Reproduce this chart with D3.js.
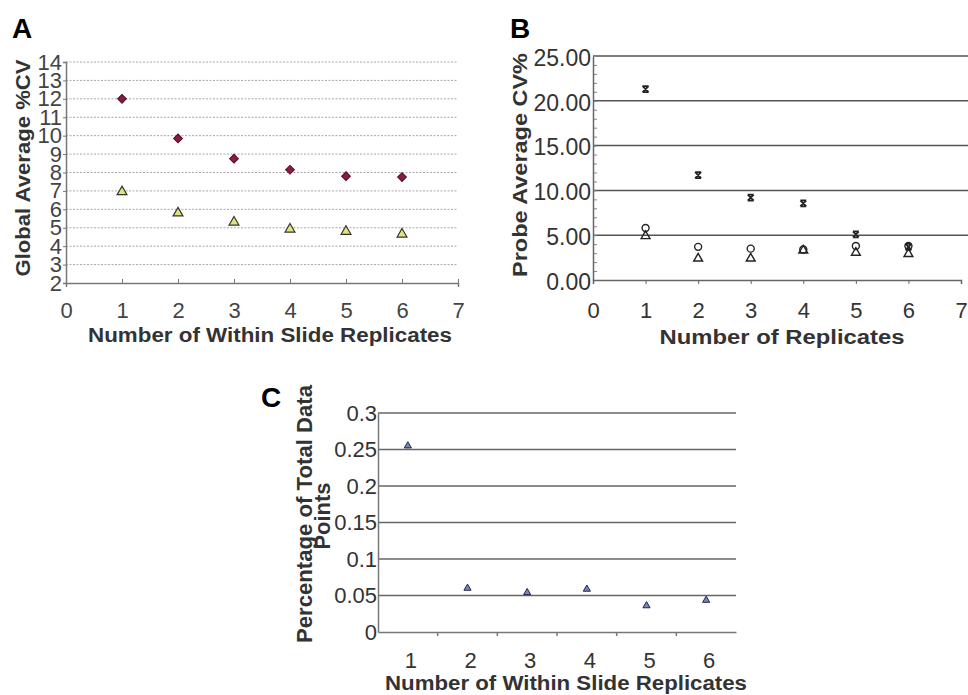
<!DOCTYPE html>
<html>
<head>
<meta charset="utf-8">
<script src="https://cdn.jsdelivr.net/npm/d3@7"></script>
<style>
body{margin:0;background:#fff}
text{font-family:"Liberation Sans",Arial,sans-serif}
</style>
</head>
<body>
<script>
// panel A data
var replicatesA = [1, 2, 3, 4, 5, 6]
var globalCvRed = [12.0, 9.85, 8.75, 8.15, 7.8, 7.75]
var globalCvTri = [6.95, 5.8, 5.3, 4.92, 4.8, 4.65]
var ticksA = [2, 3, 4, 5, 6, 7, 8, 9, 10, 11, 12, 13, 14]

// panel B data
var replicatesB = [1, 2, 3, 4, 5, 6]
var probeCvStar = [21.3, 11.7, 9.2, 8.55, 5.1, 3.7]
var probeCvCircle = [5.8, 3.7, 3.5, 3.4, 3.8, 3.8]
var probeCvTri = [4.9, 2.4, 2.4, 3.3, 3.05, 2.9]
var ticksB = [0, 5, 10, 15, 20, 25]

// panel C data
var replicatesC = ["1", "2", "3", "4", "5", "6"]
var percentTotal = [0.255, 0.06, 0.054, 0.0587, 0.036, 0.0435]
var ticksC = [0, 0.05, 0.1, 0.15, 0.2, 0.25, 0.3]

var svg = d3.select("body").append("svg")
  .attr("width", 968)
  .attr("height", 695)

function starPath(s)
{
  var h = s / 2
  return "M" + (-h) + "," + (-h) + "L" + h + "," + h +
    "M" + h + "," + (-h) + "L" + (-h) + "," + h +
    "M" + (-h) + "," + (-h) + "L" + h + "," + (-h) +
    "M" + (-h) + "," + h + "L" + h + "," + h
}

function tytul(txt, x, y, size, len, rot)
{
  var t = svg.append("text").text(txt)
    .attr("text-anchor", "middle").attr("font-size", size).attr("font-weight", "bold").attr("fill", "#333")
    .attr("textLength", len).attr("lengthAdjust", "spacingAndGlyphs")
  if (rot) t.attr("transform", "translate(" + x + "," + y + ") rotate(-90)")
  else t.attr("x", x).attr("y", y)
  return t
}

// ---------- A ----------
var xA = d3.scaleLinear().domain([0, 7]).range([66, 458])
var yA = d3.scaleLinear().domain([2, 14]).range([283, 62])
var gA = svg.append("g")

gA.selectAll("line.grid").data(ticksA.slice(1)).enter().append("line")
  .attr("class", "grid")
  .attr("x1", xA(0)).attr("x2", xA(7))
  .attr("y1", function(d){return yA(d)}).attr("y2", function(d){return yA(d)})
  .attr("stroke", "#a8a8a8").attr("stroke-width", 1)
  .attr("stroke-dasharray", "2,1.5")

gA.append("g").attr("transform", "translate(" + xA(0) + ",0)")
  .call(d3.axisLeft(yA).tickValues(ticksA).tickSize(3).tickFormat(d3.format("d")))
  .call(function(g){
    g.select(".domain").attr("stroke", "#777").attr("stroke-width", 1.5)
    g.selectAll(".tick line").attr("stroke", "#777")
    g.selectAll("text").attr("font-size", 22).attr("fill", "#444").attr("x", -4)
  })

gA.append("g").attr("transform", "translate(0," + yA(2) + ")")
  .call(d3.axisBottom(xA).ticks(7).tickSize(4).tickSizeOuter(4))
  .call(function(g){
    g.select(".domain").attr("stroke", "#777").attr("stroke-width", 1.5)
    g.selectAll(".tick line").attr("stroke", "#777").attr("y2", -4)
    g.selectAll("text").attr("font-size", 22).attr("fill", "#444").attr("y", 19)
  })

gA.selectAll("path.red").data(replicatesA).enter().append("path")
  .attr("class", "red")
  .attr("d", d3.symbol().type(d3.symbolSquare).size(38))
  .attr("transform", function(d, i){return "translate(" + xA(d) + "," + yA(globalCvRed[i]) + ") rotate(45)"})
  .attr("fill", "#8e1b3e").attr("stroke", "#4a0d1f").attr("stroke-width", 1)

gA.selectAll("path.tri").data(replicatesA).enter().append("path")
  .attr("class", "tri")
  .attr("d", d3.symbol().type(d3.symbolTriangle).size(42))
  .attr("transform", function(d, i){return "translate(" + xA(d) + "," + yA(globalCvTri[i]) + ")"})
  .attr("fill", "#e3e37a").attr("stroke", "#333").attr("stroke-width", 1.2)

svg.append("text").text("A").attr("x", 12).attr("y", 38)
  .attr("font-size", 28).attr("font-weight", "bold")
tytul("Global Average %CV", 30, 168, 21, 217, true)
tytul("Number of Within Slide Replicates", 270, 342, 20, 364, false)

// ---------- B ----------
var xB = d3.scaleLinear().domain([0, 7]).range([593, 961])
var yB = d3.scaleLinear().domain([0, 25]).range([280, 56])
var gB = svg.append("g")

gB.selectAll("line.grid").data(ticksB.slice(1)).enter().append("line")
  .attr("class", "grid")
  .attr("x1", xB(0)).attr("x2", 968)
  .attr("y1", function(d){return yB(d)}).attr("y2", function(d){return yB(d)})
  .attr("stroke", "#555").attr("stroke-width", 1.5)

gB.append("g").attr("transform", "translate(" + xB(0) + ",0)")
  .call(d3.axisRight(yB).ticks(25).tickSize(4).tickFormat(""))
  .call(function(g){
    g.select(".domain").remove()
    g.selectAll(".tick line").attr("stroke", "#888")
  })

gB.append("g").attr("transform", "translate(" + xB(0) + ",0)")
  .call(d3.axisLeft(yB).tickValues(ticksB).tickSize(0).tickFormat(d3.format(".2f")))
  .call(function(g){
    g.select(".domain").attr("stroke", "#666").attr("stroke-width", 1.5)
    g.selectAll("text").attr("font-size", 23).attr("fill", "#333").attr("x", -2).attr("dy", "0.4em")
  })

gB.append("g").attr("transform", "translate(0," + yB(0) + ")")
  .call(d3.axisBottom(xB).ticks(7).tickSize(4))
  .call(function(g){
    g.select(".domain").attr("stroke", "#666").attr("stroke-width", 1.5)
    g.selectAll(".tick line").attr("stroke", "#666")
    g.selectAll("text").attr("font-size", 22).attr("fill", "#333").attr("y", 22)
  })

gB.selectAll("path.star").data(replicatesB).enter().append("path")
  .attr("class", "star")
  .attr("d", starPath(6))
  .attr("transform", function(d, i){return "translate(" + xB(d) + "," + yB(probeCvStar[i]) + ")"})
  .attr("fill", "none").attr("stroke", "#222").attr("stroke-width", 1.8)

gB.selectAll("circle.open").data(replicatesB).enter().append("circle")
  .attr("class", "open")
  .attr("cx", function(d){return xB(d)})
  .attr("cy", function(d, i){return yB(probeCvCircle[i])})
  .attr("r", 3.5)
  .attr("fill", "none").attr("stroke", "#222").attr("stroke-width", 1.4)

gB.selectAll("path.tri").data(replicatesB).enter().append("path")
  .attr("class", "tri")
  .attr("d", d3.symbol().type(d3.symbolTriangle).size(34))
  .attr("transform", function(d, i){return "translate(" + xB(d) + "," + yB(probeCvTri[i]) + ")"})
  .attr("fill", "none").attr("stroke", "#222").attr("stroke-width", 1.4)

svg.append("text").text("B").attr("x", 510).attr("y", 38)
  .attr("font-size", 28).attr("font-weight", "bold")
tytul("Probe Average CV%", 527, 165, 21, 224, true)
tytul("Number of Replicates", 782, 344, 20, 245, false)

// ---------- C ----------
var xC = d3.scaleBand().domain(replicatesC).range([378, 736])
var yC = d3.scaleLinear().domain([0, 0.3]).range([632, 413])
var gC = svg.append("g")

gC.selectAll("line.grid").data(ticksC.slice(1)).enter().append("line")
  .attr("class", "grid")
  .attr("x1", 378).attr("x2", 736)
  .attr("y1", function(d){return yC(d)}).attr("y2", function(d){return yC(d)})
  .attr("stroke", "#666").attr("stroke-width", 1.5)

gC.append("g").attr("transform", "translate(378,0)")
  .call(d3.axisLeft(yC).tickValues(ticksC).tickSize(0).tickFormat(function(d){return String(+d.toFixed(2))}))
  .call(function(g){
    g.select(".domain").attr("stroke", "#777").attr("stroke-width", 1.5)
    g.selectAll("text").attr("font-size", 22).attr("fill", "#333").attr("x", -1)
  })

gC.append("g").attr("transform", "translate(0," + yC(0) + ")")
  .call(d3.axisBottom(xC).tickSize(0))
  .call(function(g){
    g.select(".domain").attr("stroke", "#777").attr("stroke-width", 1.5)
    g.selectAll("text").attr("font-size", 22).attr("fill", "#333").attr("y", 20).attr("x", 3)
  })

gC.selectAll("line.sep").data(replicatesC.slice(1)).enter().append("line")
  .attr("class", "sep")
  .attr("x1", function(d){return xC(d)}).attr("x2", function(d){return xC(d)})
  .attr("y1", yC(0)).attr("y2", yC(0) + 4)
  .attr("stroke", "#777").attr("stroke-width", 1.5)

gC.selectAll("path.tri").data(replicatesC).enter().append("path")
  .attr("class", "tri")
  .attr("d", d3.symbol().type(d3.symbolTriangle).size(22))
  .attr("transform", function(d, i){return "translate(" + (xC(d) + xC.bandwidth() / 2) + "," + yC(percentTotal[i]) + ")"})
  .attr("fill", "#7b86b0").attr("stroke", "#1e2450").attr("stroke-width", 1)

svg.append("text").text("C").attr("x", 261).attr("y", 407)
  .attr("font-size", 28).attr("font-weight", "bold")
tytul("Percentage of Total Data", 312, 514, 22, 258, true)
tytul("Points", 330, 516, 22, 67, true)
tytul("Number of Within Slide Replicates", 566, 690, 20, 362, false)
</script>
</body>
</html>
